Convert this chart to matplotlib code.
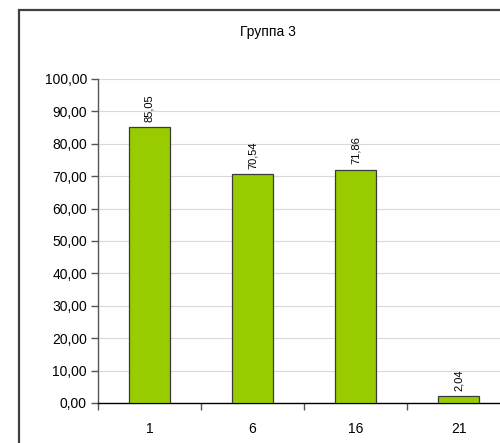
import matplotlib
matplotlib.use('Agg')
from matplotlib import pyplot as plt
from matplotlib.patches import Rectangle
import numpy as np

categories = ['1', '6', '16', '21']
values = [85.05, 70.54, 71.86, 2.04]
value_labels = ['85,05', '70,54', '71,86', '2,04']
title = 'Группа 3'

plt.rcParams['font.family'] = ['Liberation Sans', 'DejaVu Sans']

fig = plt.figure(figsize=(5.0, 4.43), dpi=100)
fig.patch.set_facecolor('white')

# outer chart border (cut off at right and bottom like in the picture)
fig.patches.append(Rectangle((19 / 500, -0.1), 1.2, 1 - 10 / 443 + 0.1,
                             transform=fig.transFigure, fill=False,
                             edgecolor='#404040', linewidth=1.6, zorder=0))

ax = fig.add_axes([98 / 500, 1 - 403 / 443, 412 / 500, (403 - 79) / 443])
x = np.arange(len(categories))
ax.bar(x, values, width=0.4, color='#99CC00', edgecolor='#3a3a3a', linewidth=0.9, zorder=3)

for xi, v, lab in zip(x, values, value_labels):
    ax.text(xi, v + 1.8, lab, rotation=90, ha='center', va='bottom', fontsize=8, color='black')

ax.set_xlim(-0.5, len(categories) - 0.5)
ax.set_ylim(0, 100)
ax.set_yticks(np.arange(0, 101, 10))
ax.set_yticklabels([f'{t:.2f}'.replace('.', ',') for t in np.arange(0, 101, 10)], fontsize=10)
ax.set_xticks(x)
ax.set_xticklabels(categories, fontsize=10)
ax.set_xticks(np.arange(-0.5, len(categories), 1), minor=True)
ax.tick_params(axis='x', which='major', length=0, pad=14)
ax.tick_params(axis='x', which='minor', length=5, width=1, color='#555555')
ax.tick_params(axis='y', length=5, width=1, color='#555555', pad=3)

ax.yaxis.grid(True, color='#d9d9d9', linewidth=0.8, zorder=0)
ax.set_axisbelow(True)
for s in ['top', 'right']:
    ax.spines[s].set_visible(False)
ax.spines['left'].set_color('#555555')
ax.spines['bottom'].set_color('black')
ax.spines['left'].set_linewidth(1.0)
ax.spines['bottom'].set_linewidth(1.0)

fig.text(268 / 500, 1 - 32 / 443, title, ha='center', va='center', fontsize=10)

plt.savefig('out.png', dpi=100)
